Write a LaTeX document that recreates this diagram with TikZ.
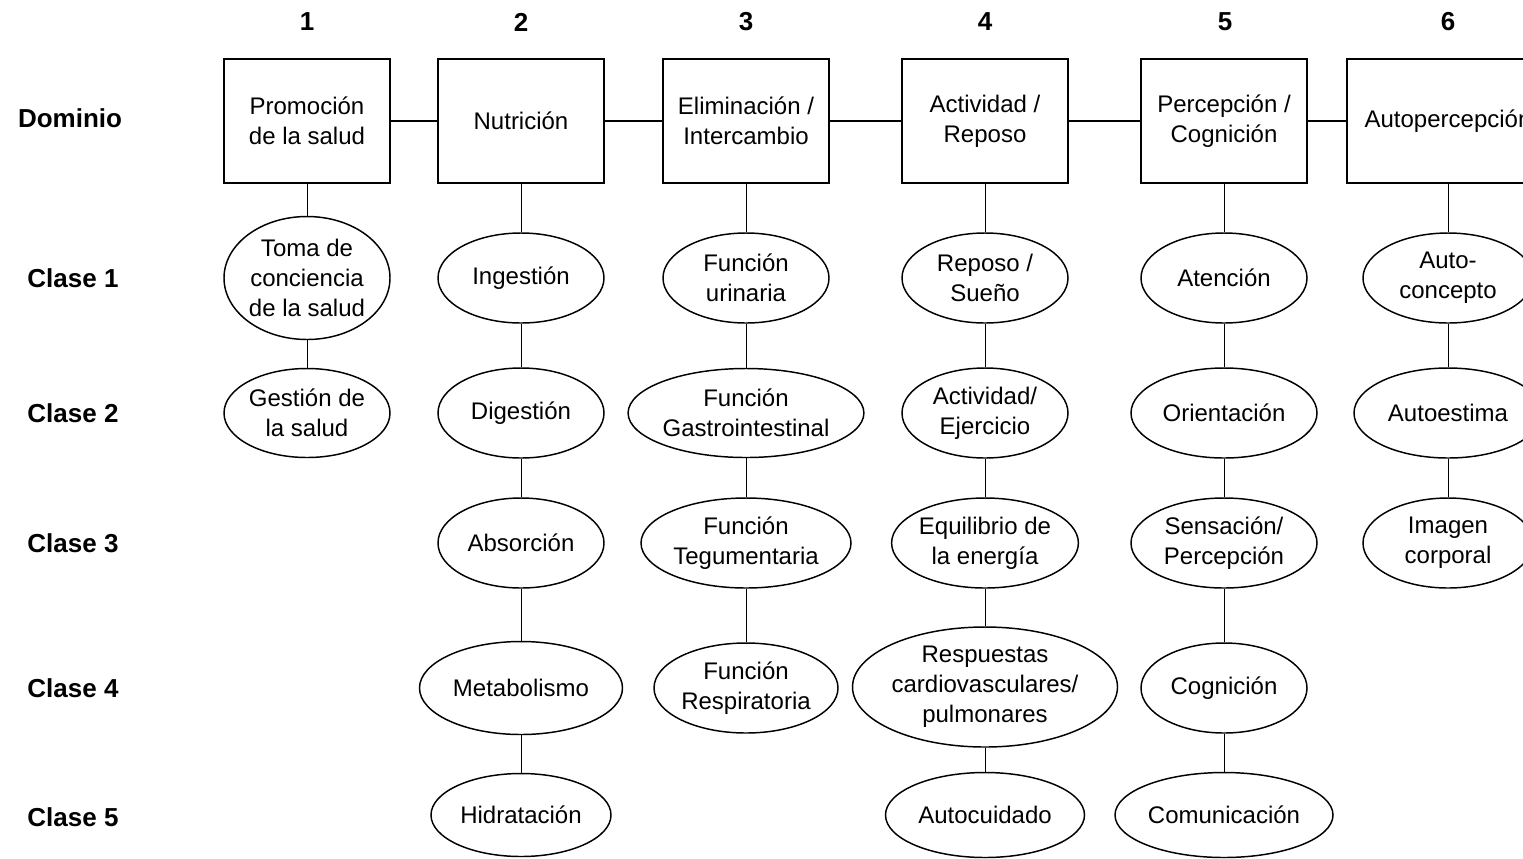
\documentclass[tikz,border=0pt]{standalone}
\usepackage{fontspec}
\setmainfont{Liberation Sans}
\usetikzlibrary{shapes.geometric}
\tikzset{
  txt/.style={font=\fontsize{18}{22.5}\selectfont, align=center},
  lbl/.style={font=\fontsize{19.5}{24}\selectfont\bfseries, inner sep=0pt},
  dombox/.style={txt, draw, line width=1.5pt, minimum width={166*0.75pt}, minimum height={124*0.75pt}, inner sep=0pt},
  ell/.style 2 args={txt, ellipse, draw, line width=1.1pt, minimum width={#1*0.75pt}, minimum height={#2*0.75pt}, inner sep=0pt},
  hconn/.style={line width=1.5pt},
  vconn/.style={line width=0.75pt}
}
\begin{document}
\begin{tikzpicture}[x=0.75pt,y=-0.75pt]
\useasboundingbox (0,0) rectangle (1523,858);
\clip (0,0) rectangle (1523,858);

% column numbers
\node[lbl] (n1) at (307,22) {1};
\node[lbl] (n2) at (521,22) {2};
\node[lbl] (n3) at (746,22) {3};
\node[lbl] (n4) at (985,22) {4};
\node[lbl] (n5) at (1225,22) {5};
\node[lbl] (n6) at (1448,22) {6};

% row labels
\node[lbl] (r0) at (70,118) {Dominio};
\node[lbl] (r1) at (73,278) {Clase 1};
\node[lbl] (r2) at (73,413) {Clase 2};
\node[lbl] (r3) at (73,543) {Clase 3};
\node[lbl] (r4) at (73,688) {Clase 4};
\node[lbl] (r5) at (73,817) {Clase 5};

% domains
\node[dombox] (d1) at (307,121) {Promoción\\de la salud};
\node[dombox] (d2) at (521,121) {Nutrición};
\node[dombox] (d3) at (746,121) {Eliminación /\\Intercambio};
\node[dombox] (d4) at (985,121) {Actividad /\\Reposo};
\node[dombox] (d5) at (1224,121) {Percepción /\\Cognición};
\node[dombox, minimum width={202*0.75pt}] (d6) at (1448,121) {Autopercepción};

\draw[hconn] (d1) -- (d2);
\draw[hconn] (d2) -- (d3);
\draw[hconn] (d3) -- (d4);
\draw[hconn] (d4) -- (d5);
\draw[hconn] (d5) -- (d6);

% column 1
\node[ell={166}{123}] (a1) at (307,278) {Toma de\\conciencia\\de la salud};
\node[ell={166}{89}] (a2) at (307,413) {Gestión de\\la salud};
\draw[vconn] (d1) -- (a1);
\draw[vconn] (a1) -- (a2);

% column 2
\node[ell={166}{90}] (b1) at (521,278) {Ingestión};
\node[ell={166}{90}] (b2) at (521,413) {Digestión};
\node[ell={166}{90}] (b3) at (521,543) {Absorción};
\node[ell={203}{93}] (b4) at (521,688) {Metabolismo};
\node[ell={180}{83}] (b5) at (521,815) {Hidratación};
\draw[vconn] (d2) -- (b1);
\draw[vconn] (b1) -- (b2);
\draw[vconn] (b2) -- (b3);
\draw[vconn] (b3) -- (b4);
\draw[vconn] (b4) -- (b5);

% column 3
\node[ell={166}{90}] (c1) at (746,278) {Función\\urinaria};
\node[ell={234}{89}] (c2) at (746,413) {Función\\Gastrointestinal};
\node[ell={210}{90}] (c3) at (746,543) {Función\\Tegumentaria};
\node[ell={184}{90}] (c4) at (746,688) {Función\\Respiratoria};
\draw[vconn] (d3) -- (c1);
\draw[vconn] (c1) -- (c2);
\draw[vconn] (c2) -- (c3);
\draw[vconn] (c3) -- (c4);

% column 4
\node[ell={166}{90}] (e1) at (985,278) {Reposo /\\Sueño};
\node[ell={166}{90}] (e2) at (985,413) {Actividad/\\Ejercicio};
\node[ell={166}{90}] (e3) at (985,543) {Equilibrio de\\la energía};
\node[ell={265}{120}] (e4) at (985,687) {Respuestas\\cardiovasculares/\\pulmonares};
\node[ell={199}{85}] (e5) at (985,815) {Autocuidado};
\draw[vconn] (d4) -- (e1);
\draw[vconn] (e1) -- (e2);
\draw[vconn] (e2) -- (e3);
\draw[vconn] (e3) -- (e4);
\draw[vconn] (e4) -- (e5);

% column 5
\node[ell={166}{90}] (f1) at (1224,278) {Atención};
\node[ell={186}{90}] (f2) at (1224,413) {Orientación};
\node[ell={186}{90}] (f3) at (1224,543) {Sensación/\\Percepción};
\node[ell={166}{90}] (f4) at (1224,688) {Cognición};
\node[ell={218}{85}] (f5) at (1224,815) {Comunicación};
\draw[vconn] (d5) -- (f1);
\draw[vconn] (f1) -- (f2);
\draw[vconn] (f2) -- (f3);
\draw[vconn] (f3) -- (f4);
\draw[vconn] (f4) -- (f5);

% column 6
\node[ell={170}{90}] (g1) at (1448,278) {Auto-\\concepto};
\node[ell={188}{90}] (g2) at (1448,413) {Autoestima};
\node[ell={170}{90}] (g3) at (1448,543) {Imagen\\corporal};
\draw[vconn] (d6) -- (g1);
\draw[vconn] (g1) -- (g2);
\draw[vconn] (g2) -- (g3);
\end{tikzpicture}
\end{document}
